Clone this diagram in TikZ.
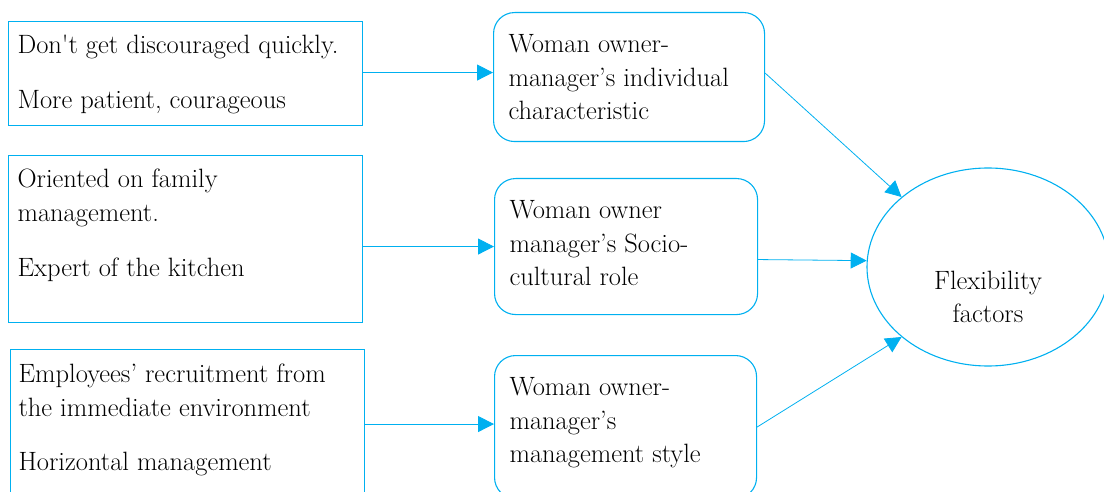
\documentclass[tikz,border=0pt]{standalone}
\usetikzlibrary{arrows.meta,shapes.geometric}
\definecolor{lineblue}{HTML}{00B0F0}
\newcommand{\boxtxt}[4]{\parbox[t][#1][t]{#2}{\raggedright\rule{0pt}{#3}#4}}
\begin{document}
\begin{tikzpicture}[x=1pt,y=-1pt,
  every node/.style={font=\fontsize{26.5}{33.5}\selectfont, text=black},
  sqbox/.style={draw=lineblue, line width=1.1pt, anchor=north west, inner ysep=0pt, inner xsep=9pt},
  rbox/.style={draw=lineblue, line width=1.1pt, rounded corners=21pt, anchor=north west, inner ysep=0pt, inner xsep=15pt},
  conn/.style={draw=lineblue, line width=0.8pt, -{Triangle[length=16pt,width=16pt]}}
]
\useasboundingbox (0,0) rectangle (1104,492);
\clip (0,0) rectangle (1104,492);

% left boxes
\node[sqbox] (L1) at (8,21) {\boxtxt{104pt}{336pt}{32pt}{Don\textquotesingle t get discouraged quickly.\\[21.5pt]More patient, courageous}};
\node[sqbox] (L2) at (8,155) {\boxtxt{167pt}{336pt}{32pt}{Oriented on family\\management.\\[21.5pt]Expert of the kitchen}};
\node[sqbox, inner xsep=8pt] (L3) at (10,349) {\boxtxt{160pt}{338pt}{33pt}{Employees’ recruitment from\\the immediate environment\\[21pt]Horizontal management}};

% middle boxes
\node[rbox] (M1) at (493,12) {\boxtxt{129pt}{241pt}{40pt}{Woman owner-\\manager’s individual\\characteristic}};
\node[rbox] (M2) at (494,178) {\boxtxt{136pt}{233pt}{40pt}{Woman owner\\manager’s Socio-\\cultural role}};
\node[rbox] (M3) at (494,355) {\boxtxt{143pt}{232pt}{40pt}{Woman owner-\\manager’s\\management style}};

% ellipse
\node[ellipse, draw=lineblue, line width=1.1pt, minimum width=242pt, minimum height=198pt, inner sep=0pt] (F) at (988,267) {};
\node[align=center, anchor=north, inner sep=0pt, font=\fontsize{26.5}{33}\selectfont] (Ft) at (988,271) {Flexibility\\factors};

% connectors
\draw[conn] ([yshift=1pt]L1.east) -- ([yshift=1pt]L1.east -| M1.west);
\draw[conn] (M2.west -| L2.east) -- (M2.west);
\draw[conn] ([yshift=3pt]M3.west -| L3.east) -- ([yshift=3pt]M3.west);
\draw[conn] ([yshift=4pt]M1.east) -- (F.141);
\draw[conn] ([yshift=-13pt]M2.east) -- (F.177);
\draw[conn] (M3.east) -- (F.219);
\end{tikzpicture}
\end{document}
